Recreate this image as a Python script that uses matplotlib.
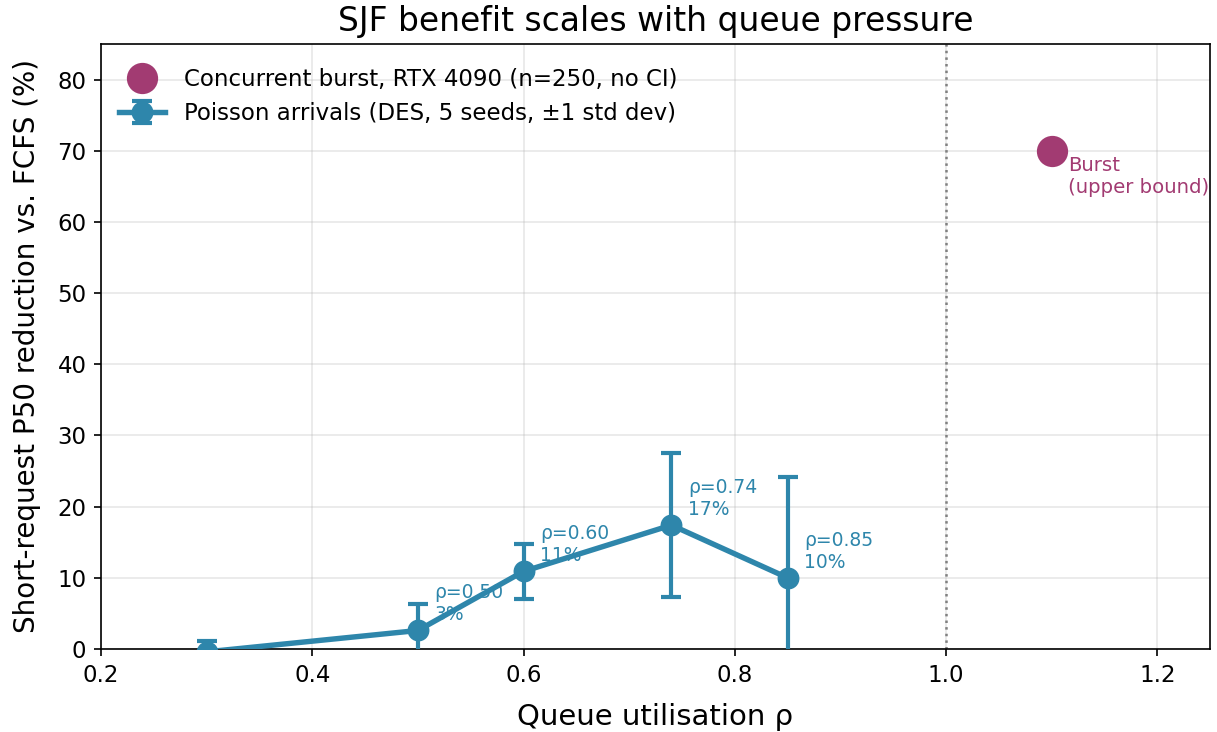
import matplotlib
matplotlib.use("Agg")
import matplotlib.pyplot as plt
import numpy as np

# Data
rho = [0.30, 0.50, 0.60, 0.74, 0.85]
reduction = [-0.4, 2.6, 10.9, 17.4, 10.0]
std_dev = [1.5, 3.7, 3.9, 10.1, 14.2]
annot_labels = ["", "ρ=0.50\n3%", "ρ=0.60\n11%", "ρ=0.74\n17%", "ρ=0.85\n10%"]
burst_x = [1.10]
burst_y = [70.0]

BLUE = "#2E86AB"
MAG = "#A23B72"

fig = plt.figure(figsize=(1217 / 150, 732 / 150), dpi=150)
ax = fig.add_axes([0.083, 0.1134, 0.9113, 0.8266])

ax.plot(burst_x, burst_y, "o", color=MAG, markersize=14, zorder=4,
        label="Concurrent burst, RTX 4090 (n=250, no CI)")
ax.errorbar(rho, reduction, yerr=std_dev, color=BLUE, marker="o", markersize=9.5,
            linewidth=2.6, elinewidth=2, capsize=5, capthick=2, zorder=3,
            label="Poisson arrivals (DES, 5 seeds, ±1 std dev)")

for x, y, lab in zip(rho, reduction, annot_labels):
    if lab:
        ax.annotate(lab, (x, y), xytext=(8, 3), textcoords="offset points",
                    ha="left", va="bottom", fontsize=9, color=BLUE)

ax.annotate("Burst\n(upper bound)", (burst_x[0], burst_y[0]), xytext=(8, -2.5),
            textcoords="offset points", ha="left", va="top", fontsize=9.5, color=MAG)

ax.axvline(1.0, color="gray", linestyle=":", linewidth=1.2, zorder=1)

ax.set_xlim(0.2, 1.25)
ax.set_ylim(0, 85)
ax.set_xticks([0.2, 0.4, 0.6, 0.8, 1.0, 1.2])
ax.set_yticks(np.arange(0, 81, 10))
ax.tick_params(labelsize=11)
ax.grid(True, alpha=0.3)
ax.set_axisbelow(True)

ax.set_xlabel("Queue utilisation ρ", fontsize=14, labelpad=8)
ax.set_ylabel("Short-request P50 reduction vs. FCFS (%)", fontsize=13.3, labelpad=8)
ax.set_title("SJF benefit scales with queue pressure", fontsize=15.8)

ax.legend(loc="upper left", fontsize=11, frameon=False,
          bbox_to_anchor=(-0.002, 0.995))

fig.savefig("out.png", dpi=150)
